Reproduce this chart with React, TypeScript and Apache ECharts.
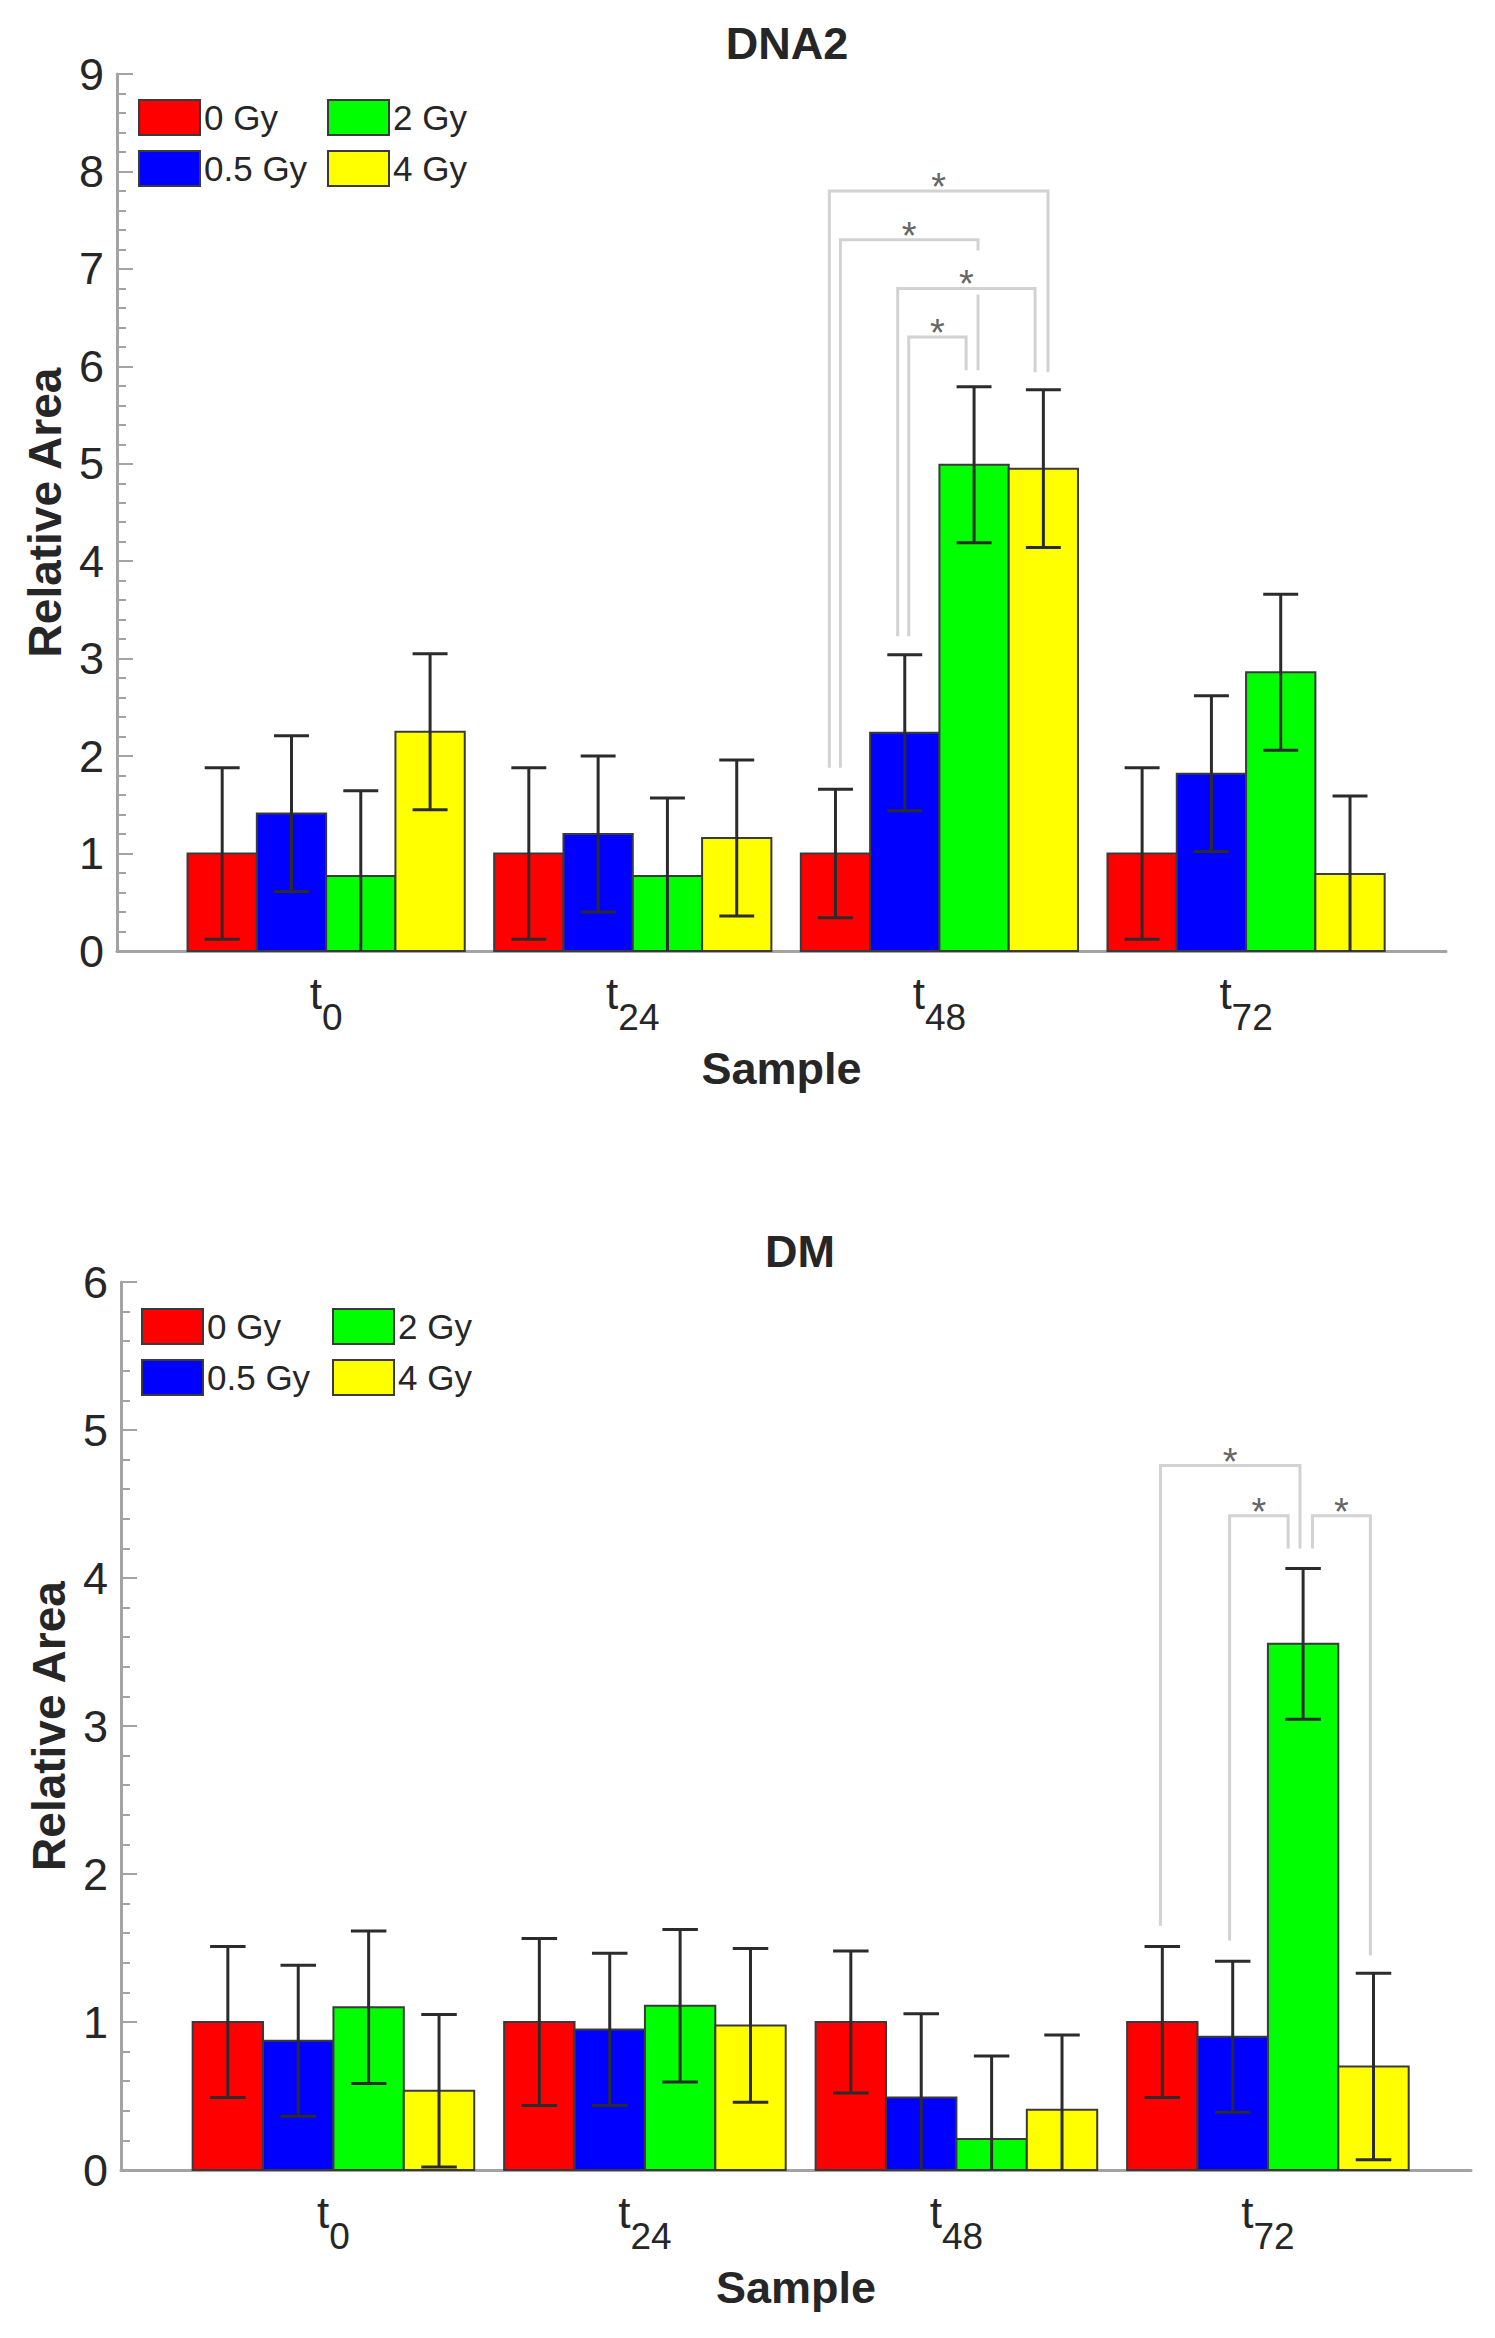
import React, { useEffect, useRef } from "react";
import * as echarts from "echarts";

// ---------- data ----------
const categories = ["0", "24", "48", "72"];
const doses = ["0 Gy", "0.5 Gy", "2 Gy", "4 Gy"];
const doseColors = ["#ff0000", "#0000ff", "#00ff00", "#ffff00"];

// DNA2 panel: mean relative area per dose (rows) and time point (columns)
const dna2Means = [
  [1.0, 1.0, 1.0, 1.0],
  [1.41, 1.2, 2.24, 1.82],
  [0.77, 0.77, 4.99, 2.86],
  [2.25, 1.16, 4.95, 0.79],
];
const dna2Sd = [
  [0.88, 0.88, 0.66, 0.88],
  [0.8, 0.8, 0.8, 0.8],
  [0.875, 0.8, 0.8, 0.8],
  [0.8, 0.8, 0.81, 0.8],
];

// DM panel
const dmMeans = [
  [1.0, 1.0, 1.0, 1.0],
  [0.874, 0.95, 0.49, 0.9],
  [1.1, 1.11, 0.21, 3.555],
  [0.535, 0.977, 0.407, 0.7],
];
const dmSd = [
  [0.51, 0.565, 0.48, 0.51],
  [0.51, 0.515, 0.565, 0.51],
  [0.515, 0.515, 0.56, 0.51],
  [0.515, 0.52, 0.506, 0.63],
];

// significance brackets: [time index (1-based), from dose, to dose, bracket height, left leg end, right leg end, left shift, right shift]
const dna2Brackets = [
  [3, 0, 3, 7.8, 1.88, 5.94, -0.02, 0.015],
  [3, 0, 2, 7.3, 1.88, 5.96, 0.016, 0.013],
  [3, 1, 3, 6.8, 3.23, 5.94, -0.023, -0.027],
  [3, 1, 2, 6.3, 3.23, 5.96, 0.013, -0.026],
];
const dmBrackets = [
  [4, 0, 2, 4.76, 1.65, 4.2, -0.006, -0.01],
  [4, 1, 2, 4.42, 1.55, 4.2, -0.01, -0.048],
  [4, 2, 3, 4.42, 4.2, 1.45, 0.03, -0.01],
];

const panelTitles = ["DNA2", "DM"];
const yMaxes = [9, 6];

// ---------- styling ----------
const BAR_W = 0.226;
const CAP_HALF = 0.057;
const X_MIN = 0.318;
const X_MAX = 4.652;
const TEXT_COLOR = "#262626";
const AXIS_COLOR = "#a3a3a3";
const SANS = "Liberation Sans, Arial, Helvetica, sans-serif";

function barRenderer(k: number) {
  return (params: any, api: any) => {
    const cat = api.value(0);
    const m = api.value(1);
    const sd = api.value(2);
    const xc = cat + (k - 1.5) * BAR_W;
    const a = api.coord([xc - BAR_W / 2, m]);
    const b = api.coord([xc + BAR_W / 2, 0]);
    const top = api.coord([xc, m + sd]);
    const lowV = m - sd;
    const bot = api.coord([xc, Math.max(lowV, 0)]);
    const capHalf = api.size([CAP_HALF, 0])[0];
    const errStyle = { stroke: "#2b2b2b", lineWidth: 3 };
    const children: any[] = [
      {
        type: "rect",
        shape: { x: a[0], y: a[1], width: b[0] - a[0], height: b[1] - a[1] },
        style: { fill: api.visual("color"), stroke: "#3a3a3a", lineWidth: 2 },
      },
      {
        type: "line",
        shape: { x1: top[0], y1: top[1], x2: bot[0], y2: bot[1] },
        style: errStyle,
      },
      {
        type: "line",
        shape: { x1: top[0] - capHalf, y1: top[1], x2: top[0] + capHalf, y2: top[1] },
        style: errStyle,
      },
    ];
    if (lowV >= 0) {
      children.push({
        type: "line",
        shape: { x1: bot[0] - capHalf, y1: bot[1], x2: bot[0] + capHalf, y2: bot[1] },
        style: errStyle,
      });
    }
    return { type: "group", children };
  };
}

function bracketRenderer(brackets: number[][]) {
  return (params: any, api: any) => {
    const i = api.value(0);
    const [cat, f, t, h, lE, rE, ls, rs] = brackets[i];
    const xl = cat + (f - 1.5) * BAR_W + ls;
    const xr = cat + (t - 1.5) * BAR_W + rs;
    const pLb = api.coord([xl, lE]);
    const pLt = api.coord([xl, h]);
    const pRt = api.coord([xr, h]);
    const pRb = api.coord([xr, rE]);
    const mid = (pLt[0] + pRt[0]) / 2;
    const yLine = pLt[1];
    return {
      type: "group",
      children: [
        {
          type: "rect",
          shape: { x: mid - 16, y: yLine - 38, width: 32, height: 44 },
          style: { fill: "#ffffff" },
        },
        {
          type: "polyline",
          shape: { points: [pLb, pLt, pRt, pRb] },
          style: { stroke: "#d2d2d2", lineWidth: 3, fill: "none" },
        },
        {
          type: "text",
          x: mid,
          y: yLine - 4,
          style: {
            text: "*",
            fontSize: 38,
            fontFamily: SANS,
            fill: "#666666",
            align: "center",
            verticalAlign: "middle",
          },
        },
      ],
    };
  };
}

function buildOption() {
  const grids = [
    { left: 117, top: 74, width: 1329, height: 877 },
    { left: 121, top: 1282, width: 1350, height: 888 },
  ];
  const xAxes: any[] = [];
  const yAxes: any[] = [];
  const series: any[] = [];
  const titles: any[] = [];
  const legends: any[] = [];
  const panels = [
    { means: dna2Means, sd: dna2Sd, brackets: dna2Brackets },
    { means: dmMeans, sd: dmSd, brackets: dmBrackets },
  ];
  const titlePos = [
    { x: 787, y: 21 },
    { x: 800, y: 1229 },
  ];
  const legendPos = [
    { x1: 138, x2: 327, y: 99 },
    { x1: 141, x2: 332, y: 1308 },
  ];

  panels.forEach((p, gi) => {
    xAxes.push({
      type: "value",
      gridIndex: gi,
      min: X_MIN,
      max: X_MAX,
      splitLine: { show: false },
      axisTick: { show: false },
      axisLine: { show: true, lineStyle: { color: AXIS_COLOR, width: 3 } },
      axisLabel: {
        customValues: [1, 2, 3, 4],
        margin: 20,
        formatter: (v: number) => `{t|t}{s|${categories[Math.round(v) - 1]}}`,
        rich: {
          t: {
            fontSize: 44,
            fontFamily: SANS,
            color: TEXT_COLOR,
            height: 44,
            lineHeight: 44,
            verticalAlign: "top",
          },
          s: {
            fontSize: 37,
            fontFamily: SANS,
            color: TEXT_COLOR,
            height: 37,
            verticalAlign: "top",
            padding: [28, 0, 0, 0],
          },
        },
      },
      name: "Sample",
      nameLocation: "middle",
      nameGap: 95,
      nameTextStyle: { fontSize: 45, fontWeight: "bold", fontFamily: SANS, color: TEXT_COLOR },
    });
    yAxes.push({
      type: "value",
      gridIndex: gi,
      min: 0,
      max: yMaxes[gi],
      interval: 1,
      splitLine: { show: false },
      axisLine: { show: true, lineStyle: { color: AXIS_COLOR, width: 3 } },
      axisTick: { show: true, inside: true, length: 16, lineStyle: { color: AXIS_COLOR, width: 2 } },
      minorTick: { show: true, splitNumber: 5, length: 9, lineStyle: { color: AXIS_COLOR, width: 2 } },
      minorSplitLine: { show: false },
      axisLabel: { fontSize: 45, fontFamily: SANS, color: TEXT_COLOR, margin: 13 },
      name: "Relative Area",
      nameLocation: "middle",
      nameRotate: 90,
      nameGap: 47,
      nameTextStyle: { fontSize: 46, fontWeight: "bold", fontFamily: SANS, color: TEXT_COLOR },
    });
    titles.push({
      text: panelTitles[gi],
      left: titlePos[gi].x,
      top: titlePos[gi].y,
      textAlign: "center",
      padding: 0,
      textStyle: { fontSize: 45, fontWeight: "bold", fontFamily: SANS, color: TEXT_COLOR },
    });
    const legendCommon = {
      orient: "vertical",
      padding: 0,
      itemGap: 14,
      itemWidth: 61,
      itemHeight: 35,
      icon: "rect",
      selectedMode: false,
      itemStyle: { borderColor: "#3a3a3a", borderWidth: 2 },
      textStyle: { fontSize: 35, fontFamily: SANS, color: TEXT_COLOR, padding: [0, 0, 0, -1] },
    };
    legends.push({ ...legendCommon, left: legendPos[gi].x1, top: legendPos[gi].y, data: [doses[0], doses[1]] });
    legends.push({ ...legendCommon, left: legendPos[gi].x2, top: legendPos[gi].y, data: [doses[2], doses[3]] });

    doses.forEach((d, k) => {
      series.push({
        type: "custom",
        name: d,
        xAxisIndex: gi,
        yAxisIndex: gi,
        itemStyle: { color: doseColors[k] },
        clip: false,
        silent: true,
        renderItem: barRenderer(k),
        data: categories.map((_, ci) => [ci + 1, p.means[k][ci], p.sd[k][ci]]),
        encode: { x: 0, y: 1 },
        z: 2,
      });
    });
    series.push({
      type: "custom",
      name: "sig-" + gi,
      xAxisIndex: gi,
      yAxisIndex: gi,
      clip: false,
      silent: true,
      renderItem: bracketRenderer(p.brackets),
      data: p.brackets.map((b, i) => [i, b[3]]),
      encode: { x: 0, y: 1 },
      z: 3,
    });
  });

  return {
    animation: false,
    backgroundColor: "#ffffff",
    title: titles,
    legend: legends,
    grid: grids,
    xAxis: xAxes,
    yAxis: yAxes,
    series,
  };
}

export default function App() {
  const ref = useRef<HTMLDivElement>(null);
  useEffect(() => {
    document.body.style.margin = "0";
    if (!ref.current) return;
    const chart = echarts.init(ref.current, null, { renderer: "svg" });
    chart.setOption(buildOption() as any);
    return () => chart.dispose();
  }, []);
  return <div ref={ref} style={{ width: 1495, height: 2338, background: "#fff" }} />;
}
